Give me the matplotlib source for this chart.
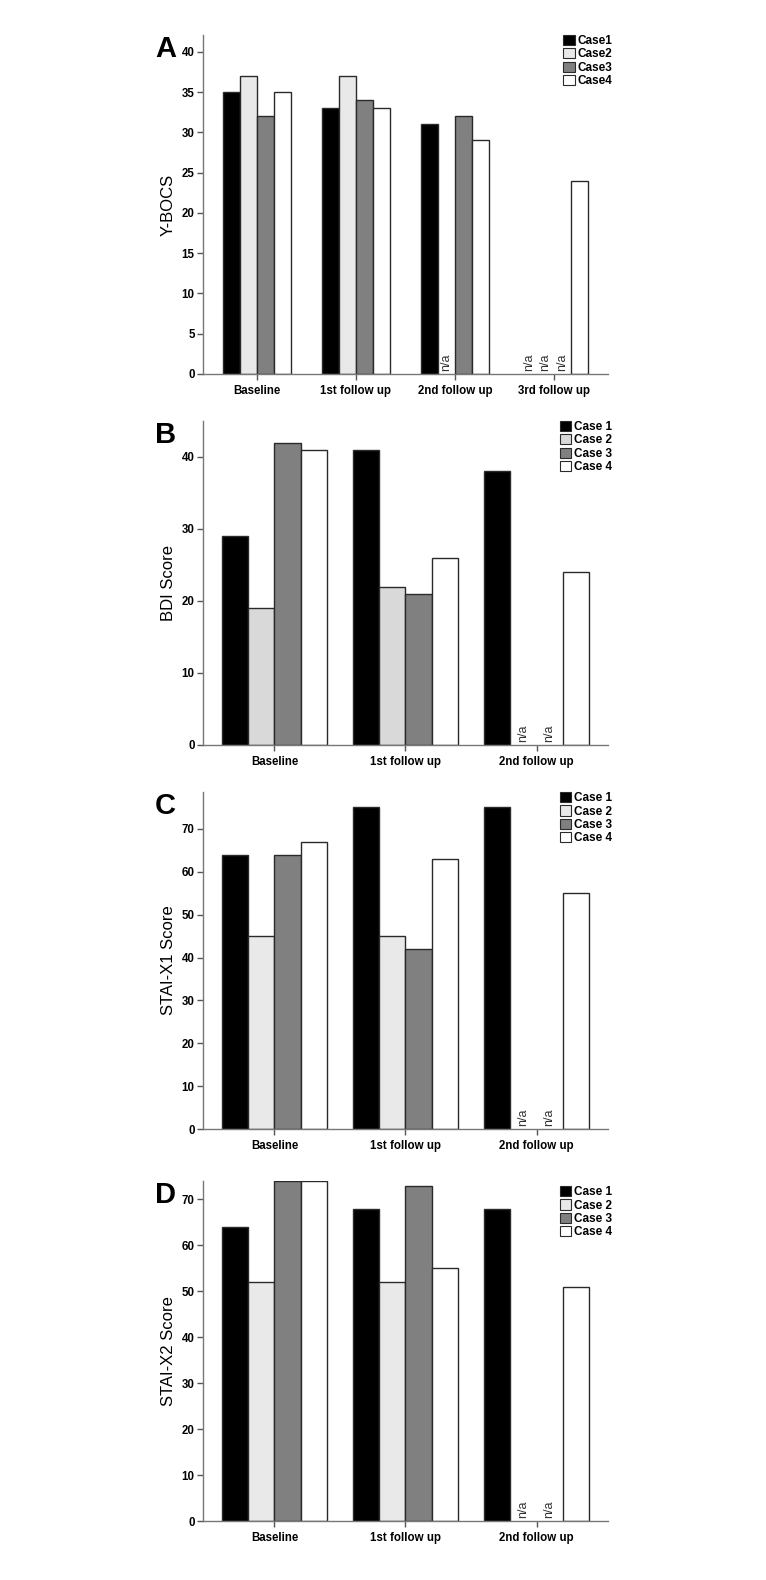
import numpy as np
import matplotlib
matplotlib.use("Agg")
import matplotlib.pyplot as plt
from matplotlib.patches import Patch

plt.rcParams['font.family'] = ['Liberation Sans', 'DejaVu Sans']

# panel A: Y-BOCS
a_cats = ["Baseline", "1st follow up", "2nd follow up", "3rd follow up"]
a_case1 = [35, 33, 31, None]
a_case2 = [37, 37, None, None]
a_case3 = [32, 34, 32, None]
a_case4 = [35, 33, 29, 24]
a_ticks = [0, 5, 10, 15, 20, 25, 30, 35, 40]

# panels B-D share the three time points
bcd_cats = ["Baseline", "1st follow up", "2nd follow up"]
b_case1 = [29, 41, 38]
b_case2 = [19, 22, None]
b_case3 = [42, 21, None]
b_case4 = [41, 26, 24]
b_ticks = [0, 10, 20, 30, 40]

c_case1 = [64, 75, 75]
c_case2 = [45, 45, None]
c_case3 = [64, 42, None]
c_case4 = [67, 63, 55]
c_ticks = [0, 10, 20, 30, 40, 50, 60, 70]

d_case1 = [64, 68, 68]
d_case2 = [52, 52, None]
d_case3 = [74, 73, None]
d_case4 = [74, 55, 51]
d_ticks = [0, 10, 20, 30, 40, 50, 60, 70]

fig = plt.figure(figsize=(7.66, 15.8), dpi=100)

panels = [
    dict(letter="A", ylabel="Y-BOCS", cats=a_cats,
         series=[a_case1, a_case2, a_case3, a_case4], ticks=a_ticks, ymax=42.1,
         names=["Case1", "Case2", "Case3", "Case4"], light="#e9e9e9",
         width=0.17, rect=[0.265, 0.7633, 0.5287, 0.2146], leg=(0.89, 1.0)),
    dict(letter="B", ylabel="BDI Score", cats=bcd_cats,
         series=[b_case1, b_case2, b_case3, b_case4], ticks=b_ticks, ymax=45,
         names=["Case 1", "Case 2", "Case 3", "Case 4"], light="#d9d9d9",
         width=0.2, rect=[0.265, 0.5285, 0.5287, 0.2051], leg=(0.882, 1.0)),
    dict(letter="C", ylabel="STAI-X1 Score", cats=bcd_cats,
         series=[c_case1, c_case2, c_case3, c_case4], ticks=c_ticks, ymax=78.6,
         names=["Case 1", "Case 2", "Case 3", "Case 4"], light="#e9e9e9",
         width=0.2, rect=[0.265, 0.2854, 0.5287, 0.2133], leg=(0.882, 1.0)),
    dict(letter="D", ylabel="STAI-X2 Score", cats=bcd_cats,
         series=[d_case1, d_case2, d_case3, d_case4], ticks=d_ticks, ymax=74,
         names=["Case 1", "Case 2", "Case 3", "Case 4"], light="#e9e9e9",
         width=0.2, rect=[0.265, 0.0373, 0.5287, 0.2152], leg=(0.882, 0.985)),
]

for p in panels:
    ax = fig.add_axes(p["rect"])
    colors = ["#000000", p["light"], "#808080", "#ffffff"]
    x = np.arange(len(p["cats"]))
    w = p["width"]
    for i, vals in enumerate(p["series"]):
        off = (i - 1.5) * w
        for j, v in enumerate(vals):
            if v is None:
                ax.text(x[j] + off, 0.4 * p["ymax"] / 42, "n/a", rotation=90,
                        ha="center", va="bottom", fontsize=9, color="#333333")
            else:
                ax.bar(x[j] + off, v, w, color=colors[i], edgecolor="#2a2a2a",
                       linewidth=1.0)
    ax.set_xlim(-0.545, len(p["cats"]) - 1 + 0.545)
    ax.set_ylim(0, p["ymax"])
    ax.set_xticks(x)
    ax.set_xticklabels(p["cats"], fontweight="bold", fontsize=8.3)
    ax.set_yticks(p["ticks"])
    ax.set_yticklabels([str(t) for t in p["ticks"]], fontweight="bold", fontsize=8.3)
    ax.tick_params(axis="both", length=4, width=1, color="#555555", pad=2)
    ax.tick_params(axis="x", pad=4)
    for s in ["top", "right"]:
        ax.spines[s].set_visible(False)
    for s in ["left", "bottom"]:
        ax.spines[s].set_color("#777777")
        ax.spines[s].set_linewidth(1.0)
    ax.set_ylabel(p["ylabel"], fontsize=12, labelpad=4)
    ax.text(-0.118, 1.0, p["letter"], transform=ax.transAxes, fontsize=21,
            fontweight="bold", ha="left", va="top")
    handles = [Patch(facecolor=c, edgecolor="#2a2a2a", linewidth=0.8) for c in colors]
    ax.legend(handles, p["names"], loc="upper left", bbox_to_anchor=p["leg"],
              frameon=False, prop=dict(weight="bold", size=8.5),
              handlelength=0.95, handleheight=0.95, handletextpad=0.2,
              labelspacing=0.1, borderpad=0, borderaxespad=0)

fig.savefig("out.png", dpi=100)
